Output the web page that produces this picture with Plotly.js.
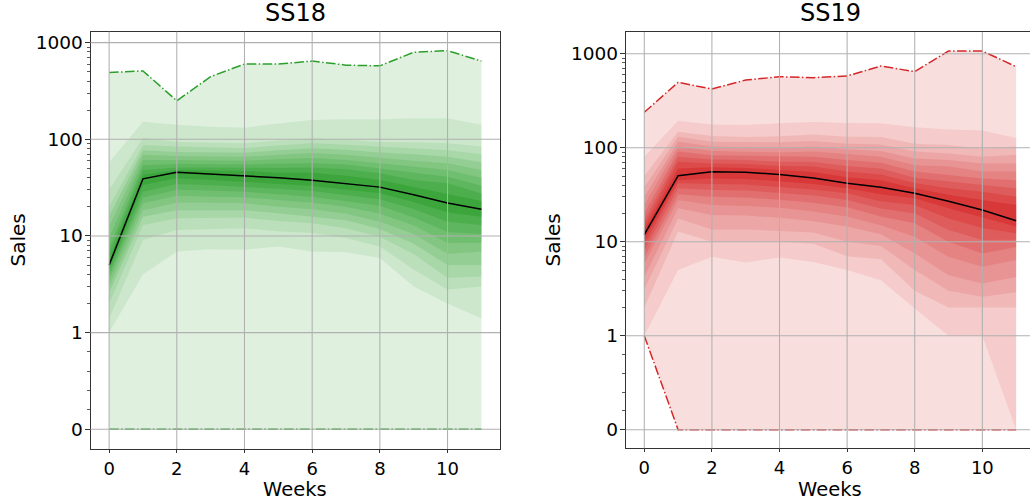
<!DOCTYPE html>
<html>
<head>
<meta charset="utf-8">
<script src="https://cdn.plot.ly/plotly-3.0.1.min.js"></script>
<style>html,body{margin:0;padding:0;background:#fff}#chart{width:1030px;height:500px}</style>
</head>
<body>
<div id="chart"></div>
<script>
// ---------- data ----------
const weeks = [0,1,2,3,4,5,6,7,8,9,10,11];
const yTickLabels = ['0','1','10','100','1000'];
const xTickVals = [0,2,4,6,8,10];

// SS18 (green)
const ss18Median = [5, 39, 45.5, 43.7, 42, 40, 37.7, 34.8, 32, 26.7, 21.9, 18.9];
const ss18Max = [490, 510, 250, 445, 600, 600, 645, 585, 575, 795, 825, 645];
const ss18Min = [0,0,0,0,0,0,0,0,0,0,0,0];
const ss18Upper = [ // outer -> inner
  [58, 152, 141, 135, 132, 146, 158, 161, 161, 165, 165, 141],
  [30, 103, 94, 92, 91, 97, 102, 99, 94, 93, 91, 84],
  [20, 87, 84, 82, 81, 86, 91, 88, 84, 80, 77, 70],
  [16, 77, 74, 73, 72.6, 77, 81, 78, 73, 70, 66, 58],
  [12.5, 69, 67, 66.5, 66, 69, 72, 69, 64, 60, 56.5, 48],
  [9.5, 61, 61, 60.5, 60, 62, 64, 61, 56.5, 52, 48, 40],
  [7.5, 54, 55.5, 55, 55, 56, 56.5, 55, 50, 45, 41, 33],
  [6.5, 48, 51, 50.5, 50.8, 50.5, 51, 49, 44.5, 38, 35, 27.5],
  [5.6, 43, 48, 47.5, 47, 45, 45, 42, 38, 32, 27, 23]
];
const ss18Lower = [ // outer -> inner
  [1.0, 4.0, 6.9, 7.3, 7.2, 7.8, 6.9, 6.8, 5.9, 3.0, 2.0, 1.4],
  [1.4, 9.1, 11.5, 11.8, 12, 11.2, 10.7, 9.5, 7.8, 4.5, 2.8, 3.0],
  [2.0, 13, 15.2, 15.3, 15.5, 14.3, 13.5, 12, 9.8, 6.5, 3.7, 3.8],
  [2.6, 15.8, 18.5, 18.5, 18.5, 17, 15.8, 14.5, 11.8, 8.3, 5.0, 5.0],
  [3.0, 18.5, 22, 22, 21.8, 20, 18.9, 17, 14, 10.5, 6.5, 6.9],
  [3.5, 21.8, 26, 25.5, 25.1, 23.5, 22, 20, 17, 12.8, 8.5, 8.5],
  [3.9, 25, 30, 29.5, 28.7, 27, 25.5, 23, 20.5, 15.5, 11, 10.5],
  [4.3, 28.7, 34.5, 33.5, 32.4, 30.8, 29.2, 26.5, 24, 19, 14, 13],
  [4.6, 33.6, 39.5, 38, 36.4, 34.5, 32.9, 30, 27.7, 22.5, 17.5, 15.8]
];

// SS19 (red)
const ss19Median = [11.9, 50.4, 55.6, 54.7, 52, 47.6, 41.8, 37.9, 32.7, 27, 21.7, 16.7];
const ss19Max = [238, 496, 421, 525, 569, 556, 580, 740, 644, 1069, 1069, 727];
const ss19Min = [1,0,0,0,0,0,0,0,0,0,0,0];
const ss19Upper = [
  [80, 194, 177, 174, 182, 188, 183, 182, 165, 156, 152, 127],
  [50, 148, 133, 130, 132, 138, 131, 130, 110, 107, 98, 103],
  [38, 131, 116, 114, 114, 118, 110, 108, 91, 87, 80, 84],
  [30, 116, 103, 101, 100, 103, 96, 92, 77, 74, 68, 68],
  [24.5, 103, 92, 91, 89, 91, 85, 80, 65, 63, 56, 56],
  [20, 91, 83, 82, 80, 80, 74, 69, 56, 51, 47, 45],
  [17, 80, 75, 74, 71, 71, 64, 60, 48, 43.5, 40, 37],
  [15, 71, 68, 67, 64, 63, 56, 52, 42, 37, 34, 30],
  [13.3, 60, 62, 61, 58, 55, 48.5, 45, 37, 31.5, 27.7, 24.5]
];
const ss19Lower = [
  [1.0, 5.0, 6.9, 6.0, 6.8, 6.1, 5.0, 3.9, 1.95, 1.0, 1.0, 0],
  [2.0, 12.8, 10, 10, 10, 9.5, 7, 6.5, 3.0, 2.0, 2.0, 2.0],
  [3.1, 17.7, 13.5, 13.5, 13, 12.5, 10, 9, 5.0, 3.0, 2.6, 2.9],
  [4.2, 22.7, 19.2, 19, 18, 16.5, 14.5, 12, 7.5, 4.4, 3.6, 4.2],
  [5.8, 27.8, 24.5, 24, 23, 21, 18.5, 15, 11.3, 6.9, 5.4, 6.4],
  [6.8, 32, 30, 29.5, 28, 26, 23.2, 18.5, 15.7, 10, 7.5, 8.8],
  [8, 37, 35.5, 35, 33, 31, 27.7, 22.5, 20, 13.3, 10.4, 10.5],
  [9.2, 41.8, 41, 40.5, 38.5, 36, 32.7, 27, 24.5, 17.7, 14, 12.3],
  [10.5, 45, 47, 46.5, 44, 41, 37, 32, 29, 22.7, 18, 14.5]
];

// ---------- symlog scale (linthresh = 1) ----------
function sl(v){ return v <= 1 ? v : 1 + Math.log10(v); }

const FONT = 'DejaVu Sans, Liberation Sans, sans-serif';
const DASHDOT = '9.6px,2.4px,1.5px,2.4px';
// opacity of the min-max layer and of each quantile band (outer -> inner)
const layerAlpha = [0.152, 0.10, 0.111, 0.127, 0.144, 0.168, 0.204, 0.253, 0.339, 0.512];

function fanTraces(median, maxv, minv, uppers, lowers, rgb, xa, ya){
  const solid = 'rgb(' + rgb + ')';
  const xs = weeks.concat(weeks.slice().reverse());
  const poly = (up, lo, a) => ({
    type:'scatter', mode:'lines', x: xs,
    y: up.map(sl).concat(lo.map(sl).reverse()),
    fill:'toself', fillcolor: 'rgba(' + rgb + ',' + a + ')', line:{width:0, color: 'rgba(0,0,0,0)'},
    hoverinfo:'skip', showlegend:false, xaxis: xa, yaxis: ya
  });
  const tr = [poly(maxv, minv, layerAlpha[0])];
  for (let i = 0; i < uppers.length; i++) tr.push(poly(uppers[i], lowers[i], layerAlpha[i + 1]));
  tr.push({type:'scatter', mode:'lines', x: weeks, y: maxv.map(sl),
    line:{color: solid, width:1.5, dash: DASHDOT}, showlegend:false, xaxis: xa, yaxis: ya});
  tr.push({type:'scatter', mode:'lines', x: weeks, y: minv.map(sl),
    line:{color: solid, width:1.5, dash: DASHDOT}, showlegend:false, xaxis: xa, yaxis: ya});
  tr.push({type:'scatter', mode:'lines', x: weeks, y: median.map(sl),
    line:{color:'#000', width:1.5}, showlegend:false, xaxis: xa, yaxis: ya});
  return tr;
}

const data = [].concat(
  fanTraces(ss18Median, ss18Max, ss18Min, ss18Upper, ss18Lower, '44,160,44', 'x', 'y'),
  fanTraces(ss19Median, ss19Max, ss19Min, ss19Upper, ss19Lower, '214,39,40', 'x2', 'y2')
);

// minor ticks on the symlog axis
const minorVals = [0.2, 0.4, 0.6, 0.8];
for (let d = 1; d <= 3; d++) for (let k = 2; k <= 9; k++) minorVals.push(d + Math.log10(k));

const W = 1030, H = 500;
const px = v => v / W, py = v => 1 - v / H;
const AX = '#333';

function xAxis(domain, range, mirror){
  return {domain, range, tickmode:'array', tickvals: xTickVals, ticktext: xTickVals.map(String),
    ticks:'outside', ticklen:3, tickwidth:1, tickcolor: AX,
    showline:true, linecolor: AX, linewidth:1, mirror: mirror,
    showgrid:false, zeroline:false, fixedrange:true,
    tickfont:{family: FONT, size:18, color:'#000'}};
}
function yAxis(domain, range, mirror, anchor){
  return {domain, range, anchor, tickmode:'array', tickvals:[0,1,2,3,4], ticktext: yTickLabels,
    ticks:'outside', ticklen:5, tickwidth:1, tickcolor: AX, ticklabelstandoff: -2,
    minor:{tickmode:'array', tickvals: minorVals, ticks:'outside', ticklen:2.5, tickwidth:0.8, tickcolor: AX, showgrid:false},
    showline:true, linecolor: AX, linewidth:1, mirror: mirror,
    showgrid:false, zeroline:false, fixedrange:true,
    tickfont:{family: FONT, size:18.5, color:'#000'}};
}

const leftX = [px(90.5), px(500)], leftY = [py(449), py(31.7)];
const rightX = [px(625.7), 1], rightY = [py(448.3), py(32)];

// grid lines (drawn above the fills, like matplotlib)
const shapes = [];
const GRID = {color:'#b0b0b0', width:1.05};
[['x','y'],['x2','y2']].forEach(([xa, ya]) => {
  xTickVals.forEach(v => shapes.push({type:'line', layer:'above', xref: xa, yref: ya + ' domain',
    x0: v, x1: v, y0: 0, y1: 1, line: GRID}));
  [0,1,2,3,4].forEach(v => shapes.push({type:'line', layer:'above', xref: xa + ' domain', yref: ya,
    x0: 0, x1: 1, y0: v, y1: v, line: GRID}));
});

const annText = (text, x, y, size, angle) => ({text, x: px(x), y: py(y), xref:'paper', yref:'paper',
  showarrow:false, xanchor:'center', yanchor:'middle', textangle: angle || 0, borderpad:0,
  font:{family: FONT, size, color:'#000'}});

const layout = {
  width: W, height: H, margin:{l:0, r:0, t:0, b:0},
  paper_bgcolor:'#fff', plot_bgcolor:'#fff', showlegend:false,
  xaxis: Object.assign(xAxis(leftX, [-0.55, 11.55], true), {anchor:'y'}),
  yaxis: yAxis(leftY, [-0.204, 4.113], true, 'x'),
  xaxis2: Object.assign(xAxis(rightX, [-0.55, 11.41], true), {anchor:'y2'}),
  yaxis2: yAxis(rightY, [-0.198, 4.231], false, 'x2'),
  shapes,
  annotations: [
    annText('SS18', 295.3, 13, 24),
    annText('SS19', 830.2, 13, 24),
    annText('Weeks', 295.3, 489, 19.5),
    annText('Weeks', 830.2, 489, 19.5),
    annText('Sales', 17.5, 240, 20, -90),
    annText('Sales', 552.5, 240, 20, -90)
  ]
};

Plotly.newPlot('chart', data, layout, {staticPlot:true, displayModeBar:false});
</script>
</body>
</html>
